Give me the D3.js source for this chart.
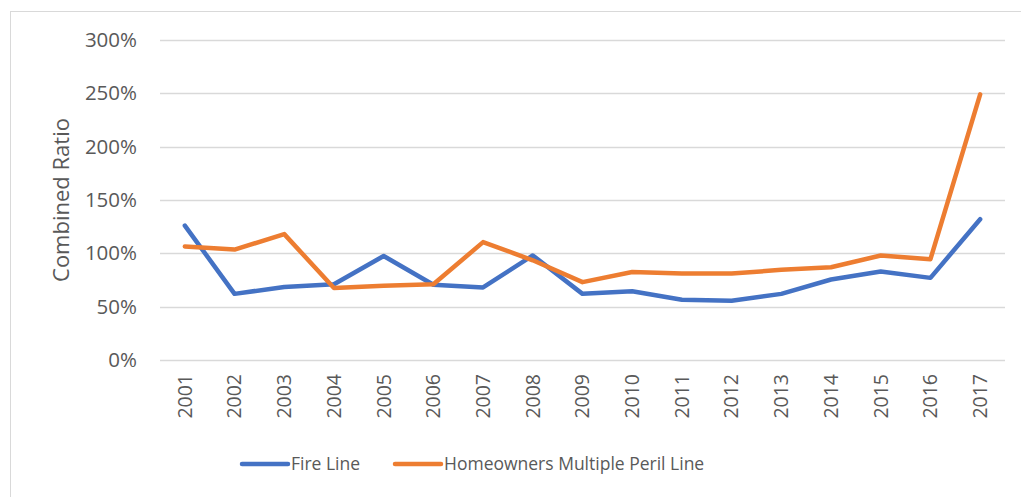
<!DOCTYPE html>
<html>
<head>
<meta charset="utf-8">
<script src="https://cdn.jsdelivr.net/npm/d3@7"></script>
<style>
  body { margin: 0; background: #fff; }
  text { font-family: "Open Sans", "Liberation Sans", sans-serif; fill: #595959; }
</style>
</head>
<body>
<div id="chart-area"></div>
<script>
var years = ["2001","2002","2003","2004","2005","2006","2007","2008","2009",
             "2010","2011","2012","2013","2014","2015","2016","2017"];
var fireLine = [1.26, 0.62, 0.685, 0.71, 0.975, 0.705, 0.68, 0.98, 0.62,
                0.645, 0.565, 0.555, 0.62, 0.755, 0.83, 0.77, 1.32];
var homeownersLine = [1.065, 1.035, 1.18, 0.675, 0.695, 0.71, 1.105, 0.935, 0.73,
                      0.825, 0.81, 0.81, 0.845, 0.87, 0.98, 0.945, 2.49];
var yTicks = [0, 0.5, 1, 1.5, 2, 2.5, 3];

var series = [
    { name: "Fire Line", values: fireLine, color: "#4472C4" },
    { name: "Homeowners Multiple Peril Line", values: homeownersLine, color: "#ED7D31" }
];

var svg = d3.select("#chart-area")
    .append("svg")
        .attr("width", 1021)
        .attr("height", 497);

// chart border
svg.append("rect")
    .attr("x", 10.5)
    .attr("y", 11.5)
    .attr("width", 1015)
    .attr("height", 490)
    .attr("fill", "none")
    .attr("stroke", "#d9d9d9");

var x = d3.scaleBand()
    .domain(years)
    .range([160, 1005])
    .padding(0);

var y = d3.scaleLinear()
    .domain([0, 3])
    .range([360, 40]);

// gridlines
svg.append("g")
    .selectAll("line")
    .data(yTicks)
    .enter()
    .append("line")
        .attr("x1", 160)
        .attr("x2", 1005)
        .attr("y1", function(d){ return Math.round(y(d)) + 0.5; })
        .attr("y2", function(d){ return Math.round(y(d)) + 0.5; })
        .attr("stroke", "#d9d9d9")
        .attr("stroke-width", 1.5);

// y axis labels
var yAxisCall = d3.axisLeft(y)
    .tickValues(yTicks)
    .tickSize(0)
    .tickPadding(0)
    .tickFormat(d3.format(".0%"));

var yAxis = svg.append("g")
    .attr("transform", "translate(137,0)")
    .call(yAxisCall);
yAxis.select(".domain").remove();
yAxis.selectAll("text")
    .attr("font-size", "20.5px")
    .attr("font-family", null)
    .attr("fill", "#595959");

// x axis labels
var xAxisCall = d3.axisBottom(x).tickSize(0);
var xAxis = svg.append("g")
    .attr("transform", "translate(0,360)")
    .call(xAxisCall);
xAxis.select(".domain").remove();
xAxis.selectAll("text")
    .attr("font-size", "19.5px")
    .attr("font-family", null)
    .attr("fill", "#595959")
    .attr("text-anchor", "end")
    .attr("x", -14)
    .attr("y", 0)
    .attr("dy", "0.35em")
    .attr("transform", "rotate(-90)");

// y axis title
svg.append("text")
    .attr("transform", "translate(61,200) rotate(-90)")
    .attr("text-anchor", "middle")
    .attr("dy", "0.35em")
    .attr("font-size", "22px")
    .text("Combined Ratio");

// lines
var line = d3.line()
    .x(function(d, i){ return x(years[i]) + x.bandwidth() / 2; })
    .y(function(d){ return y(d); });

svg.append("g")
    .selectAll("path")
    .data(series)
    .enter()
    .append("path")
        .attr("d", function(s){ return line(s.values); })
        .attr("fill", "none")
        .attr("stroke", function(s){ return s.color; })
        .attr("stroke-width", 4.5)
        .attr("stroke-linejoin", "round")
        .attr("stroke-linecap", "round");

// legend
var legendX = [242, 395];
var legend = svg.append("g")
    .selectAll("g")
    .data(series)
    .enter()
    .append("g")
        .attr("transform", function(s, i){ return "translate(" + legendX[i] + ",464)"; });

legend.append("line")
    .attr("x1", 0)
    .attr("x2", 46)
    .attr("stroke", function(s){ return s.color; })
    .attr("stroke-width", 4.5)
    .attr("stroke-linecap", "round");

legend.append("text")
    .attr("x", 49)
    .attr("dy", "0.35em")
    .attr("font-size", "17.5px")
    .text(function(s){ return s.name; });
</script>
</body>
</html>
